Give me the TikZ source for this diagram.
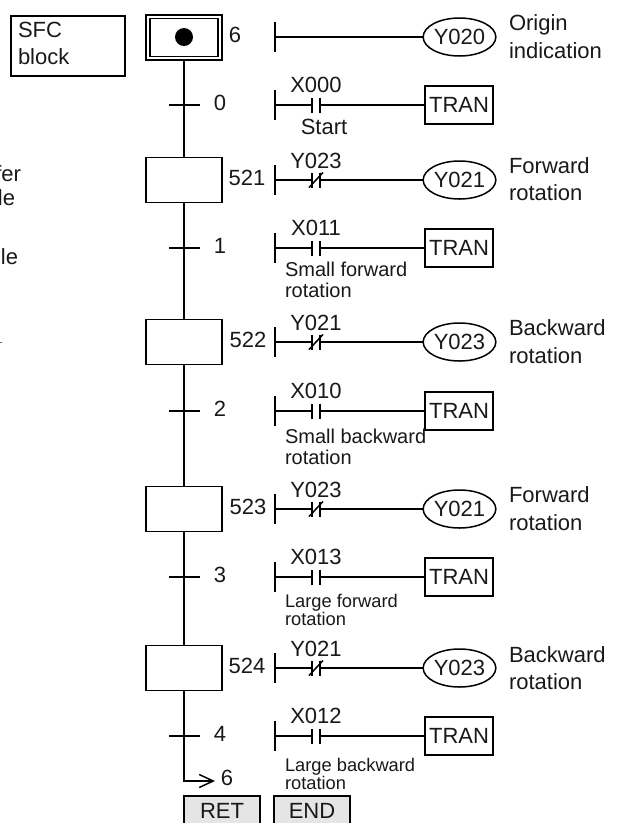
\documentclass[tikz,border=0pt]{standalone}
\usepackage{fontspec}
\setmainfont{Liberation Sans}
\usetikzlibrary{shapes.geometric,arrows.meta,calc}
\newcommand{\fs}[2]{\fontsize{#1}{#2}\selectfont}
\tikzset{
  ln/.style={line width=1.75pt,black},
  wire/.style={line width=1.5pt,black},
  txt/.style={inner sep=0pt,outer sep=0pt,font=\fs{22}{27.5},text=black!90},
  lefttxt/.style={txt,anchor=west,align=left},
  stepbox/.style={draw,ln,minimum width=76pt,minimum height=45pt,inner sep=0pt,outer sep=0pt},
  coil/.style={draw,wire,ellipse,minimum width=69pt,minimum height=38pt,inner sep=0pt,outer sep=0pt,font=\fs{22}{27},text=black!90},
  tranbox/.style={draw,ln,minimum width=68pt,minimum height=38pt,inner sep=0pt,outer sep=0pt,font=\fs{22}{27},text=black!90},
  graybox/.style={draw,ln,fill=black!10,minimum width=76pt,minimum height=30pt,inner sep=0pt,outer sep=0pt,font=\fs{22}{27},text=black!90},
  tick/.style={line width=1.5pt,black},
  bar/.style={line width=1.6pt,black},
  smallnote/.style={lefttxt,font=\fs{20}{21}},
  largenote/.style={lefttxt,font=\fs{18.3}{18}}
}
% number, rail y : the left power rail of a rung with its contact
\newcommand{\railcontact}[2]{%
  \coordinate (r#1) at (275,#2);
  \coordinate (rt#1) at (275,#2-15);
  \coordinate (rb#1) at (275,#2+15);
  \coordinate (ca#1) at (312,#2);
  \coordinate (cb#1) at (320,#2);
  \coordinate (cat#1) at (312,#2-7.5);
  \coordinate (cab#1) at (312,#2+7.5);
  \coordinate (cbt#1) at (320,#2-7.5);
  \coordinate (cbb#1) at (320,#2+7.5);
  \draw[bar] (rt#1) -- (rb#1);
  \draw[wire] (r#1) -- (ca#1);
  \draw[bar] (cat#1) -- (cab#1);
  \draw[bar] (cbt#1) -- (cbb#1);
}
\newcommand{\ncslash}[2]{%
  \coordinate (sa#1) at (309,#2+7.5);
  \coordinate (sb#1) at (323,#2-7.5);
  \draw[wire] (sa#1) -- (sb#1);
}
\begin{document}
\begin{tikzpicture}[x=1pt,y=-1pt]
\useasboundingbox (0,0) rectangle (618,823);
\clip (0,0) rectangle (618,823);
\fill[white] (0,0) rectangle (618,823);

% SFC block legend
\node[draw,ln,minimum width=114pt,minimum height=60pt,anchor=north west,inner sep=0pt] (sfc) at (10,15) {};
\node[lefttxt] (sfct) at (18,43.5) {SFC\\block};

% cut-off notes at left edge
\node[txt,anchor=east] (n1) at (21,174) {fer};
\node[txt,anchor=east] (n2) at (15,198) {le};
\node[txt,anchor=east] (n3) at (18,257) {le};
\coordinate (m1) at (0,342);
\coordinate (m2) at (2,342);
\draw[line width=0.6pt,black!60] (m1) -- (m2);

% steps
\node[draw,ln,minimum width=76pt,minimum height=45pt,inner sep=0pt,outer sep=0pt] (s6) at (184,37.5) {};
\node[draw,ln,minimum width=68pt,minimum height=38pt,inner sep=0pt] (s6i) at (184,37.5) {};
\node[circle,fill=black,minimum size=18pt,inner sep=0pt] (dot) at (184,37) {};
\node[stepbox] (s521) at (184,180) {};
\node[stepbox] (s522) at (184,342) {};
\node[stepbox] (s523) at (184,509) {};
\node[stepbox] (s524) at (184,668) {};

% transition ticks
\foreach \n/\y in {0/105,1/248,2/411,3/577,4/736}{
  \coordinate (t\n) at (184,\y);
  \coordinate (tl\n) at (169,\y);
  \coordinate (tr\n) at (200,\y);
  \draw[tick] (tl\n) -- (tr\n);
}
% main rail
\draw[ln] (s6.south) -- (s521.north);
\draw[ln] (s521.south) -- (s522.north);
\draw[ln] (s522.south) -- (s523.north);
\draw[ln] (s523.south) -- (s524.north);

% return arrow
\node[txt] (ret6) at (227,778) {6};
\coordinate (retend) at (215,781);
\draw[ln,-{Straight Barb[length=14pt,width=13pt,line width=1.5pt]}] (s524.south) |- (retend);

% number labels
\node[txt] (l6) at (235,35) {6};
\node[txt] (l0) at (220,103) {0};
\node[txt] (l521) at (247,177.5) {521};
\node[txt] (l1) at (220,246) {1};
\node[txt] (l522) at (248,339.5) {522};
\node[txt] (l2) at (220,409) {2};
\node[txt] (l523) at (248,507) {523};
\node[txt] (l3) at (220,575) {3};
\node[txt] (l524) at (247,666) {524};
\node[txt] (l4) at (220,734) {4};

% rung 6
\coordinate (r6) at (275,37);
\coordinate (rt6) at (275,22);
\coordinate (rb6) at (275,52);
\draw[bar] (rt6) -- (rb6);
\node[coil] (y6) at (459.5,37) {Y020};
\draw[wire] (r6) -- (y6);
\node[lefttxt] (o6) at (509,36.5) {Origin\\indication};

% rung 0
\railcontact{A}{105}
\node[tranbox] (trA) at (459,105) {TRAN};
\draw[wire] (cbA) -- (trA);
\node[txt] (xA) at (316,85) {X000};
\node[txt] (cA) at (324,127) {Start};

% rung 521
\railcontact{B}{180}
\ncslash{B}{180}
\node[coil] (yB) at (459.5,180) {Y021};
\draw[wire] (cbB) -- (yB);
\node[txt] (xB) at (316,161) {Y023};
\node[lefttxt] (oB) at (509,179) {Forward\\rotation};

% rung 1
\railcontact{C}{248}
\node[tranbox] (trC) at (459,248) {TRAN};
\draw[wire] (cbC) -- (trC);
\node[txt] (xC) at (316,228) {X011};
\node[smallnote] (cC) at (285,279.5) {Small forward\\rotation};

% rung 522
\railcontact{D}{342}
\ncslash{D}{342}
\node[coil] (yD) at (459.5,342) {Y023};
\draw[wire] (cbD) -- (yD);
\node[txt] (xD) at (316,323) {Y021};
\node[lefttxt] (oD) at (509,341.5) {Backward\\rotation};

% rung 2
\railcontact{E}{411}
\node[tranbox] (trE) at (459,411) {TRAN};
\draw[wire] (cbE) -- (trE);
\node[txt] (xE) at (316,391) {X010};
\node[smallnote] (cE) at (285,447) {Small backward\\rotation};

% rung 523
\railcontact{F}{509}
\ncslash{F}{509}
\node[coil] (yF) at (459.5,509) {Y021};
\draw[wire] (cbF) -- (yF);
\node[txt] (xF) at (316,490) {Y023};
\node[lefttxt] (oF) at (509,508.5) {Forward\\rotation};

% rung 3
\railcontact{G}{577}
\node[tranbox] (trG) at (459,577) {TRAN};
\draw[wire] (cbG) -- (trG);
\node[txt] (xG) at (316,557) {X013};
\node[largenote] (cG) at (285,610) {Large forward\\rotation};

% rung 524
\railcontact{H}{668}
\ncslash{H}{668}
\node[coil] (yH) at (459.5,668) {Y023};
\draw[wire] (cbH) -- (yH);
\node[txt] (xH) at (316,649) {Y021};
\node[lefttxt] (oH) at (509,668) {Backward\\rotation};

% rung 4
\railcontact{J}{736}
\node[tranbox] (trJ) at (459,736) {TRAN};
\draw[wire] (cbJ) -- (trJ);
\node[txt] (xJ) at (316,716) {X012};
\node[largenote] (cJ) at (285,774) {Large backward\\rotation};

% end blocks
\node[graybox] (ret) at (222,811) {RET};
\node[graybox] (endb) at (312,811) {END};
\end{tikzpicture}
\end{document}
